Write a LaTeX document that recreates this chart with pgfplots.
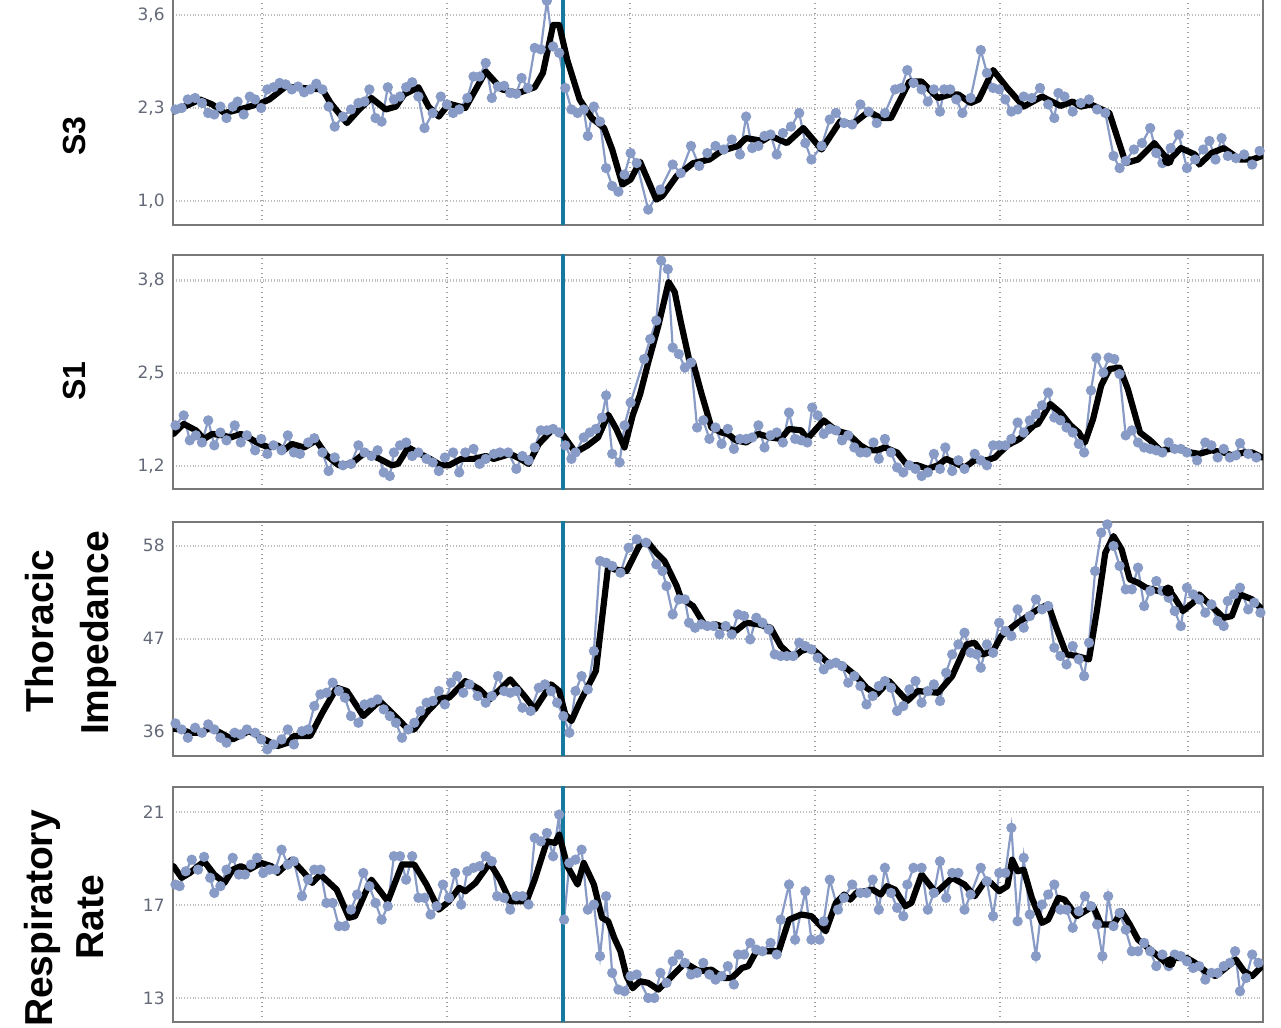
\documentclass[border=0pt]{standalone}
\usepackage{pgfplots}
\pgfplotsset{compat=1.18}
\usepackage{fontspec}
\setmainfont{DejaVu Sans}
\newfontfamily\labfont{Liberation Sans}
\definecolor{rawc}{RGB}{136,155,198}
\definecolor{vlinec}{RGB}{22,122,160}
\definecolor{tickc}{RGB}{100,105,120}
\definecolor{framec}{RGB}{120,120,120}
\pgfplotsset{
  panel/.style={
    scale only axis, width=545pt,
    xmin=173, xmax=1263,
    xtick={262,447,630,815,1000,1188},
    xticklabels={},
    grid=major,
    major x grid style={dotted, line width=0.6pt, gray!75},
    major y grid style={densely dotted, line width=1.1pt, gray!50},
    major tick length=0pt,
    axis line style={framec, line width=1pt},
    yticklabel style={font=\fontsize{8.5}{10}\selectfont, text=tickc, inner sep=0pt, xshift=-4pt},
    anchor=south west,
  },
  raw/.style={rawc, line width=1.1pt, mark=*, mark size=2pt, mark options={fill=rawc, draw=rawc}},
  smoothl/.style={black, line width=3.1pt, line join=round, line cap=round},
  vl/.style={vlinec, line width=1.8pt},
  blob/.style={only marks, mark=*, mark size=2.8pt, black},
}
\begin{document}
\begin{tikzpicture}
\useasboundingbox (0,0) rectangle (640.5pt,514pt);

% ---------------- S3 ----------------
\begin{axis}[panel, at={(86.5pt,401.5pt)}, height=114pt,
  ymin=0.665, ymax=3.852, ytick={1.0,2.3,3.6}, yticklabels={{1,0},{2,3},{3,6}}]
\addplot[raw] coordinates {
(175.5,2.28)(181.6,2.30)(187.8,2.42)(195.1,2.44)(202,2.37)(208.2,2.23)(214.3,2.21)(220.4,2.32)(226.5,2.16)(232.7,2.32)(237.6,2.39)(243.7,2.21)(249.8,2.46)(255.1,2.42)(261.2,2.30)(267.3,2.56)(273.5,2.59)(279.6,2.65)(285.7,2.63)(291.8,2.56)(298,2.60)(304.1,2.52)(310.2,2.56)(316.3,2.64)(322.4,2.56)(328.6,2.32)(334.7,2.04)(342.9,2.18)(351,2.28)(358.4,2.37)(364.5,2.39)(369.4,2.56)(375.5,2.16)(381.6,2.11)(387.8,2.59)(393.9,2.42)(400,2.46)(406.1,2.59)(412.2,2.66)(418.4,2.46)(424.5,2.02)(432.7,2.23)(440.8,2.46)(446.9,2.35)(453.1,2.23)(459.2,2.28)(467.3,2.44)(473.5,2.74)(479.6,2.74)(485.7,2.93)(491.8,2.44)(498,2.60)(504.1,2.61)(510.2,2.51)(516.3,2.50)(521.6,2.72)(527.8,2.58)(534.7,3.14)(540.8,3.12)(546.9,3.80)(553.1,3.16)(559.2,3.07)(565.3,2.58)(571.4,2.28)(577.6,2.23)(583.7,2.28)(587.8,1.91)(593.9,2.32)(600,2.11)(606.1,1.46)(612.2,1.21)(618.4,1.13)(624.5,1.37)(630.6,1.67)(636.7,1.53)
(648.2,0.88)(660.4,1.16)(672.7,1.51)(680.8,1.39)(691,1.77)(699.2,1.49)(707.3,1.67)(715.5,1.77)(723.7,1.72)(731.8,1.86)(740,1.65)(746.1,2.18)(752.2,1.74)(758.4,1.77)(764.5,1.91)(770.6,1.93)(776.7,1.65)(782.9,1.95)(791,2.04)(799.2,2.23)(805.3,1.81)(811.4,1.58)(821.6,1.77)(829.8,2.14)(835.9,2.23)(844.1,2.09)(852.2,2.07)(860.4,2.35)(868.6,2.25)(876.7,2.09)(884.9,2.23)(895.1,2.56)(901.2,2.58)(907.3,2.83)(913.5,2.65)(921.6,2.56)(927.8,2.39)(933.9,2.56)(940,2.25)(944.1,2.56)(950.2,2.56)(956.3,2.42)(962.4,2.23)(970.6,2.44)(980.8,3.11)(986.9,2.79)(993.1,2.58)(999.2,2.56)(1005.3,2.42)(1011.4,2.25)(1017.6,2.28)(1023.7,2.46)(1031.8,2.44)(1040,2.58)(1048.2,2.35)(1054.3,2.16)(1058.4,2.51)(1064.5,2.46)(1072.7,2.25)(1080.8,2.37)(1089,2.42)(1097.1,2.28)(1105.3,2.23)(1113.5,1.63)(1119.6,1.46)(1125.7,1.56)(1133.9,1.72)(1142,1.81)(1150.2,2.02)(1156.3,1.67)(1162.4,1.53)(1170.6,1.74)(1178.8,1.93)(1186.9,1.46)(1195.1,1.58)(1203.3,1.72)(1209.4,1.84)(1215.5,1.58)(1221.6,1.88)(1227.8,1.63)(1235.9,1.60)(1244.1,1.65)(1252.2,1.51)(1259.6,1.70)
};
\addplot[vl] coordinates {(563,0.5)(563,4)};
\addplot[smoothl] coordinates {
(173.5,2.25)(181.6,2.30)(200,2.42)(212.2,2.35)(224.5,2.23)(244.9,2.30)(261.2,2.37)(269.4,2.42)(285.7,2.60)(302,2.58)(322.4,2.56)(330.6,2.37)(346.9,2.09)(359.2,2.28)(371.4,2.44)(385.7,2.28)(395.9,2.32)(404.1,2.49)(418.4,2.59)(428.6,2.32)(438.8,2.18)(449,2.36)(465.3,2.30)(485.7,2.81)(502,2.56)(518.4,2.51)(534.7,2.59)(542.9,2.79)(553.1,3.46)(559.2,3.46)(567.3,2.97)(579.6,2.42)(591.8,2.16)(604.1,2.02)(612.2,1.72)(622.4,1.23)(630.6,1.30)(640,1.55)
(656.3,1.02)(662.4,1.07)(676.7,1.35)(693.1,1.53)(709.4,1.58)(721.6,1.70)(738,1.77)(746.1,1.88)(762.4,1.84)(770.6,1.91)(786.9,1.81)(803.3,2.02)(821.6,1.72)(840,2.11)(852.2,2.07)(868.6,2.25)(880.8,2.16)(891,2.16)(909.4,2.67)(921.6,2.67)(938,2.44)(950.2,2.49)(958.4,2.49)(970.6,2.37)(978.8,2.42)(993.1,2.83)(1007.3,2.58)(1023.7,2.32)(1042,2.46)(1060.4,2.33)(1072.7,2.39)(1080.8,2.32)(1091,2.35)(1109.4,2.23)(1125.7,1.53)(1138,1.58)(1154.3,1.81)(1168.6,1.56)(1180.8,1.74)(1195.1,1.65)(1199.2,1.51)(1211.4,1.67)(1223.7,1.74)(1240,1.58)(1252.2,1.58)(1262,1.63)
};
\addplot[blob] coordinates {(1168,1.57)};
\end{axis}

% ---------------- S1 ----------------
\begin{axis}[panel, at={(86.5pt,269.25pt)}, height=117.25pt,
  ymin=0.871, ymax=4.159, ytick={1.2,2.5,3.8}, yticklabels={{1,2},{2,5},{3,8}}]
\addplot[raw] coordinates {
(175.5,1.77)(183.7,1.91)(189.8,1.56)(195.9,1.63)(202,1.53)(208.2,1.84)(214.3,1.49)(220.4,1.67)(226.5,1.56)(234.7,1.77)(240.8,1.53)(246.9,1.63)(255.1,1.42)(261.2,1.58)(267.3,1.37)(273.5,1.49)(281.6,1.42)(287.8,1.63)(293.9,1.39)(300,1.37)(308.2,1.53)(314.3,1.59)(322.4,1.39)(328.6,1.13)(334.7,1.32)(342.9,1.21)(351,1.23)(358.4,1.49)(364.5,1.39)(371.4,1.34)(377.6,1.42)(383.7,1.11)(389.8,1.06)(393.9,1.39)(400,1.49)(406.1,1.53)(412.2,1.34)(418.4,1.39)(426.5,1.30)(432.7,1.25)(438.8,1.13)(444.9,1.32)(453.1,1.39)(459.2,1.11)(465.3,1.39)(473.5,1.44)(479.6,1.23)(485.7,1.30)(493.9,1.37)(500,1.39)(508.2,1.39)(516.3,1.16)(522.4,1.34)(528.6,1.28)(534.7,1.46)(540.8,1.70)(546.9,1.70)(553.1,1.72)(559.2,1.67)(565.3,1.49)(571.4,1.30)(575.5,1.39)(583.7,1.60)(589.8,1.67)(595.9,1.72)(602,1.88)(606.1,2.19)(612.2,1.37)(619.6,1.25)(624.5,1.77)(630.6,2.09)
(644.1,2.70)(650.2,2.98)(656.3,3.24)(661.2,4.08)(667.8,3.96)(672.7,2.86)(678.8,2.77)(684.9,2.58)(691,2.65)(697.1,1.74)(703.3,1.84)(709.4,1.58)(715.5,1.74)(721.6,1.51)(727.8,1.72)(733.9,1.44)(740,1.58)(746.1,1.58)(752.2,1.60)(758.4,1.77)(764.5,1.46)(770.6,1.63)(776.7,1.67)(782.9,1.53)(789,1.95)(795.1,1.58)(801.2,1.56)(807.3,1.53)(812.2,2.02)(817.6,1.91)(823.7,1.65)(829.8,1.72)(835.9,1.70)(842,1.56)(848.2,1.63)(854.3,1.46)(860.4,1.39)(866.5,1.39)(873.5,1.53)(878.8,1.30)(884.9,1.58)(891,1.39)(897.1,1.18)(903.3,1.11)(909.4,1.21)(915.5,1.16)(921.6,1.06)(927.8,1.11)(933.9,1.37)(940,1.16)(945.3,1.46)(952.2,1.13)(958.4,1.28)(964.5,1.16)(974.7,1.37)(980.8,1.28)(986.9,1.21)(993.1,1.49)(999.2,1.49)(1005.3,1.49)(1011.4,1.58)(1017.6,1.81)(1023.7,1.67)(1029.8,1.84)(1035.9,1.93)(1042,2.05)(1048.2,2.23)(1054.3,1.88)(1060.4,1.84)(1066.5,1.74)(1072.7,1.67)(1078.8,1.51)(1084.1,1.39)(1091,2.26)(1096.3,2.72)(1103.3,2.51)(1108.6,2.72)(1114.3,2.70)(1119.6,2.49)(1125.7,1.63)(1131.8,1.70)(1138,1.53)(1144.1,1.46)(1150.2,1.44)(1156.3,1.42)(1162.4,1.39)(1168.6,1.53)(1174.7,1.44)(1180.8,1.44)(1186.9,1.39)(1197.1,1.28)(1205.3,1.53)(1211.4,1.49)(1217.6,1.32)(1223.7,1.44)(1229.8,1.32)(1235.9,1.35)(1240,1.52)(1248.2,1.37)(1256.3,1.32)
};
\addplot[vl] coordinates {(563,0.5)(563,4.5)};
\addplot[smoothl] coordinates {
(173.5,1.65)(183.7,1.79)(195.9,1.70)(204.1,1.58)(212.2,1.65)(222.4,1.63)(230.6,1.60)(240.8,1.65)(251,1.58)(259.2,1.51)(269.4,1.46)(277.6,1.49)(283.7,1.42)(291.8,1.51)(304.1,1.46)(316.3,1.56)(326.5,1.35)(338.8,1.21)(351,1.23)(365.3,1.39)(379.6,1.30)(391.8,1.21)(398,1.23)(408.2,1.46)(420.4,1.37)(432.7,1.28)(440.8,1.21)(449,1.21)(461.2,1.30)(473.5,1.30)(485.7,1.34)(493.9,1.30)(510.2,1.37)(520.4,1.30)(528.6,1.23)(538.8,1.51)(553.1,1.72)(563.3,1.63)(575.5,1.39)(587.8,1.49)(598,1.60)(608.2,1.92)(616.3,1.72)(624.5,1.46)(632.7,1.91)
(640,2.20)(648.2,2.65)(658.4,3.17)(668.6,3.78)(674.7,3.64)(680.8,3.22)(689,2.70)(693.1,2.65)(701.2,2.23)(711.4,1.74)(721.6,1.67)(727.8,1.65)(735.9,1.56)(746.1,1.53)(758.4,1.65)(770.6,1.60)(780.8,1.58)(789,1.72)(801.2,1.70)(807.3,1.58)(823.7,1.84)(835.9,1.70)(848.2,1.65)(860.4,1.49)(868.6,1.42)(876.7,1.42)(884.9,1.46)(897.1,1.39)(907.3,1.21)(917.6,1.21)(927.8,1.16)(938,1.21)(946.1,1.30)(954.3,1.25)(964.5,1.18)(974.7,1.28)(986.9,1.28)(995.1,1.32)(1007.3,1.49)(1019.6,1.58)(1033.9,1.77)(1038,1.79)(1050.2,2.07)(1060.4,1.95)(1070.6,1.77)(1078.8,1.67)(1084.9,1.53)(1093.1,1.86)(1101.2,2.33)(1109.4,2.56)(1119.6,2.58)(1127.8,2.28)(1140,1.67)(1150.2,1.56)(1160.4,1.42)(1170.6,1.44)(1180.8,1.44)(1191,1.39)(1199.2,1.37)(1211.4,1.42)(1223.7,1.39)(1231.8,1.35)(1244.1,1.39)(1252.2,1.39)(1262,1.32)
};
\end{axis}

% ---------------- Thoracic Impedance ----------------
\begin{axis}[panel, at={(86.5pt,136pt)}, height=117.15pt,
  ymin=33.13, ymax=60.84, ytick={36,47,58}, yticklabels={36,47,58}]
\addplot[raw] coordinates {
(175.5,36.98)(181.6,36.27)(187.8,35.29)(195.1,36.47)(202,35.88)(208.2,36.87)(214.3,36.27)(220.4,35.29)(226.5,34.70)(234.7,35.88)(240.8,35.68)(246.9,36.27)(255.1,35.88)(261.2,35.09)(267.3,33.91)(273.5,34.50)(281.6,35.09)(287.8,36.27)(293.9,34.50)(302,36.07)(308.2,36.27)(314.3,39.04)(320.4,40.42)(326.5,40.61)(332.7,41.80)(338.8,40.81)(344.9,40.02)(351,37.85)(358.4,37.06)(364.5,39.23)(371.4,39.43)(377.6,39.82)(383.7,38.64)(389.8,37.85)(395.9,37.06)(402,35.29)(408.2,36.27)(414.3,37.06)(420.4,38.45)(426.5,39.43)(432.7,39.63)(438.8,40.81)(444.9,39.23)(451,41.80)(457.1,42.58)(463.3,40.61)(469.4,41.60)(477.6,40.22)(485.7,39.43)(491.8,40.22)(498,42.58)(504.1,40.81)(510.2,40.61)(516.3,40.81)(522.4,38.84)(530.6,38.45)(538.8,41.20)(544.9,41.60)(551,40.81)(557.1,39.43)(563.3,37.85)(569.4,35.88)(575.5,40.81)(581.6,42.58)(587.8,41.01)(593.9,45.54)(600,56.19)(606.1,55.99)(612.2,55.60)(620.4,54.81)(628.6,57.76)(636.7,58.75)
(646.1,58.36)(656.3,55.79)(662.4,55.00)(666.5,53.23)(672.7,49.88)(678.8,51.65)(684.9,51.65)(689,48.89)(695.1,48.30)(701.2,48.70)(707.3,48.50)(713.5,48.50)(719.6,47.51)(725.7,48.50)(731.8,47.51)(738,49.88)(744.1,49.68)(750.2,46.92)(756.3,49.48)(762.4,48.89)(768.6,48.10)(774.7,45.15)(780.8,44.95)(786.9,44.95)(793.1,44.95)(799.2,46.53)(805.3,46.13)(811.4,45.74)(817.6,44.75)(823.7,43.37)(829.8,43.96)(835.9,44.16)(842,43.77)(848.2,41.80)(854.3,42.58)(860.4,41.40)(866.5,39.23)(872.7,40.22)(878.8,41.40)(884.9,41.99)(891,41.20)(897.1,38.45)(903.3,39.04)(909.4,41.01)(915.5,41.99)(921.6,39.43)(927.8,40.81)(933.9,41.60)(940,39.63)(946.1,42.98)(952.2,45.15)(958.4,46.33)(964.5,47.71)(970.6,45.34)(976.7,45.15)(980.8,43.57)(986.9,46.33)(993.1,45.34)(999.2,48.89)(1005.3,47.91)(1011.4,47.32)(1017.6,50.47)(1023.7,48.30)(1029.8,49.68)(1035.9,51.65)(1042,50.47)(1048.2,50.86)(1054.3,45.94)(1060.4,44.95)(1066.5,43.96)(1072.7,46.13)(1078.8,44.56)(1084.1,42.58)(1089,46.53)(1095.1,55.00)(1101.2,59.54)(1107.3,60.52)(1113.5,57.96)(1119.6,55.60)(1125.7,52.84)(1131.8,52.84)(1138,55.40)(1144.1,50.86)(1150.2,52.64)(1156.3,53.82)(1162.4,52.64)(1168.6,51.85)(1174.7,50.27)(1180.8,48.50)(1186.9,53.03)(1193.1,52.24)(1199.2,51.65)(1205.3,50.08)(1211.4,51.06)(1217.6,49.09)(1223.7,48.50)(1227.8,51.46)(1233.9,52.24)(1240,53.03)(1248.2,50.47)(1254.3,51.26)(1260.4,50.08)
};
\addplot[vl] coordinates {(563,30)(563,65)};
\addplot[smoothl] coordinates {
(173.5,36.35)(181.6,36.27)(189.8,35.88)(200,35.88)(210.2,36.47)(220.4,35.88)(232.7,35.09)(249,36.08)(261.2,35.29)(277.6,34.30)(287.8,34.70)(293.9,35.49)(310.2,35.49)(322.4,38.25)(336.7,41.20)(346.9,40.81)(363.3,37.85)(379.6,39.63)(391.8,38.25)(408.2,36.27)(414.3,36.27)(426.5,38.25)(440.8,40.02)(449,40.02)(465.3,41.99)(479.6,41.01)(489.8,39.82)(510.2,42.19)(524.5,40.22)(534.7,38.64)(551,41.60)(559.2,40.81)(565.3,38.05)(571.4,37.26)(579.6,39.43)(595.9,43.18)(608.2,55.60)(614.3,55.20)(626.5,55.00)(640,58.16)
(648.2,58.36)(656.3,57.17)(664.5,56.19)(676.7,53.23)(680.8,51.85)(693.1,50.86)(705.3,48.50)(715.5,48.70)(725.7,48.30)(735.9,47.91)(746.1,48.89)(758.4,48.70)(770.6,48.30)(780.8,46.13)(793.1,44.75)(801.2,45.54)(811.4,45.94)(827.8,44.16)(842,43.96)(856.3,42.58)(866.5,41.20)(876.7,40.42)(889,41.99)(907.3,39.63)(917.6,40.81)(938,40.61)(952.2,42.58)(966.5,46.33)(974.7,46.53)(982.9,45.15)(993.1,45.54)(1001.2,47.32)(1015.5,48.70)(1027.8,49.68)(1038,50.47)(1048.2,51.06)(1056.3,48.30)(1066.5,45.15)(1076.7,44.95)(1089,44.56)(1097.1,50.47)(1105.3,57.17)(1113.5,59.14)(1121.6,57.57)(1129.8,54.02)(1138,53.62)(1146.1,53.03)(1158.4,52.64)(1168.6,52.84)(1174.7,51.85)(1182.9,50.27)(1193.1,51.26)(1199.2,52.24)(1211.4,50.86)(1223.7,49.48)(1231.8,49.68)(1240,52.24)(1252.2,51.65)(1262,50.47)
};
\addplot[blob] coordinates {(1168,52.7)};
\end{axis}

% ---------------- Respiratory Rate ----------------
\begin{axis}[panel, at={(86.5pt,3.15pt)}, height=117.5pt,
  ymin=11.99, ymax=22.10, ytick={13,17,21}, yticklabels={13,17,21}]
\addplot[raw] coordinates {
(175.5,17.89)(179.6,17.82)(185.7,18.46)(191.8,18.96)(198,18.53)(204.1,19.08)(210.2,18.18)(214.3,17.53)(220.4,17.82)(226.5,18.53)(232.7,19.04)(238.8,18.32)(244.9,18.32)(251,18.75)(257.1,19.04)(263.3,18.39)(269.4,18.53)(275.5,18.53)(281.6,19.39)(287.8,18.75)(293.9,18.89)(302,17.39)(308.2,18.10)(314.3,18.53)(320.4,18.53)(326.5,17.10)(332.7,17.10)(338.8,16.10)(344.9,16.10)(351,16.81)(357.1,17.46)(363.3,18.39)(369.4,17.82)(375.5,17.10)(381.6,16.38)(387.8,16.96)(393.9,19.11)(400,19.11)(406.1,18.10)(412.2,19.11)(418.4,17.32)(424.5,17.32)(430.6,16.60)(436.7,16.96)(442.9,17.89)(449,17.32)(455.1,18.39)(461.2,17.03)(467.3,18.46)(473.5,18.61)(479.6,18.68)(485.7,19.11)(491.8,18.89)(497.1,17.39)(504.1,17.32)(510.2,16.81)(516.3,17.39)(522.4,17.39)(528.6,17.03)(534.7,19.90)(540.8,19.75)(546.9,20.11)(553.1,19.11)(559.2,20.90)(564.1,16.38)(569.4,18.82)(575.5,18.96)(581.6,19.39)(587.8,16.81)(593.9,17.03)(600,14.81)(606.1,17.39)(612.2,14.09)(618.4,13.37)(624.5,13.30)(630.6,13.95)(636.7,14.02)
(648.2,13.01)(654.3,13.01)(660.4,14.09)(666.5,13.66)(672.7,14.59)(678.8,14.88)(684.9,14.52)(691,14.02)(697.1,14.09)(703.3,14.52)(709.4,14.02)(715.5,13.80)(721.6,13.95)(727.8,14.38)(733.9,13.59)(738,14.88)(744.1,14.88)(750.2,15.38)(756.3,15.09)(762.4,15.02)(770.6,15.38)(776.7,14.88)(780.8,16.38)(789,17.89)(795.1,15.52)(805.3,17.60)(811.4,15.52)(819.6,15.52)(823.7,16.31)(829.8,18.10)(838,16.81)(844.1,17.32)(852.2,17.89)(860.4,17.53)(866.5,17.53)(872.7,18.10)(878.8,16.81)(884.9,18.61)(891,17.53)(897.1,16.89)(903.3,16.53)(907.3,17.89)(913.5,18.61)(921.6,18.61)(927.8,16.81)(933.9,17.53)(940,18.89)(946.1,17.32)(952.2,18.39)(958.4,18.39)(964.5,16.81)(970.6,17.46)(980.8,18.61)(986.9,18.03)(993.1,16.53)(999.2,18.39)(1005.3,18.39)(1011.4,20.33)(1017.6,16.31)(1023.7,19.04)(1029.8,16.60)(1035.9,14.81)(1042,17.03)(1048.2,17.46)(1054.3,17.89)(1060.4,16.81)(1066.5,16.81)(1072.7,16.03)(1078.8,16.74)(1084.9,17.39)(1091,16.96)(1097.1,16.17)(1102.4,14.81)(1108.2,17.39)(1113.5,16.10)(1119.6,16.67)(1125.7,15.95)(1131.8,15.02)(1138,15.02)(1144.1,15.38)(1150.2,15.02)(1156.3,14.38)(1162.4,14.88)(1168.6,14.38)(1174.7,14.88)(1180.8,14.81)(1186.9,14.59)(1193.1,14.30)(1199.2,14.38)(1205.3,13.80)(1211.4,14.09)(1217.6,14.09)(1223.7,14.38)(1229.8,14.52)(1235.1,15.02)(1240,13.30)(1246.1,13.87)(1252.2,14.88)(1258.4,14.52)
};
\addplot[vl] coordinates {(563,10)(563,24)};
\addplot[smoothl] coordinates {
(173.5,18.68)(181.6,18.18)(189.8,18.39)(204.1,18.89)(214.3,18.32)(224.5,17.96)(232.7,18.53)(240.8,18.68)(249,18.53)(261.2,18.82)(271.4,18.68)(277.6,18.39)(291.8,18.96)(304.1,18.39)(312.2,17.96)(320.4,18.32)(336.7,17.67)(349,16.46)(355.1,16.53)(365.3,17.53)(371.4,18.10)(387.8,17.17)(402,18.75)(414.3,18.75)(426.5,17.89)(438.8,16.81)(449,17.17)(459.2,17.75)(465.3,17.60)(475.5,17.96)(489.8,18.82)(500,18.10)(510.2,17.17)(526.5,17.17)(534.7,18.10)(546.9,19.75)(555.1,19.68)(559.2,20.04)(567.3,18.68)(577.6,17.89)(583.7,18.82)(593.9,17.89)(602,16.46)(608.2,16.31)(614.3,15.59)(620.4,15.02)(626.5,13.95)(632.7,13.43)(640,13.73)
(648.2,13.66)(658.4,13.37)(668.6,13.80)(684.9,14.52)(699.2,14.16)(711.4,14.23)(723.7,13.87)(731.8,13.87)(742,14.30)(748.2,14.38)(756.3,15.02)(770.6,15.02)(778.8,15.02)(789,16.38)(801.2,16.60)(811.4,16.53)(825.7,15.88)(835.9,17.10)(844.1,17.46)(850.2,17.24)(856.3,17.53)(872.7,17.67)(880.8,17.46)(886.9,17.82)(895.1,17.67)(905.3,16.96)(911.4,17.10)(921.6,18.32)(935.9,17.53)(952.2,18.18)(964.5,17.89)(974.7,17.39)(984.9,18.03)(991,17.96)(999.2,17.60)(1007.3,17.82)(1012.2,18.96)(1017.6,18.46)(1023.7,18.53)(1031.8,17.32)(1042,16.24)(1048.2,16.38)(1058.4,17.32)(1064.5,17.24)(1076.7,16.53)(1093.1,16.96)(1101.2,16.17)(1113.5,16.17)(1121.6,16.74)(1129.8,16.17)(1138,15.52)(1150.2,15.09)(1162.4,14.66)(1168.6,14.38)(1174.7,14.73)(1186.9,14.73)(1195.1,14.52)(1205.3,14.16)(1215.5,13.95)(1225.7,14.30)(1235.9,14.66)(1244.1,14.16)(1252.2,13.95)(1262,14.38)
};
\addplot[blob] coordinates {(1170,14.55)};
\end{axis}

% ---------------- panel labels ----------------
\node[rotate=90, anchor=base, font=\labfont\bfseries\fontsize{16}{18}\selectfont] at (42.5pt,446pt) {S3};
\node[rotate=90, anchor=base, font=\labfont\bfseries\fontsize{16}{18}\selectfont] at (42.5pt,323.5pt) {S1};
\node[rotate=90, anchor=base, font=\labfont\bfseries\fontsize{19.5}{22}\selectfont] at (26.5pt,198.5pt) {Thoracic};
\node[rotate=90, anchor=base, font=\labfont\bfseries\fontsize{19.5}{22}\selectfont] at (54pt,197.5pt) {Impedance};
\node[rotate=90, anchor=base, font=\labfont\bfseries\fontsize{19.5}{22}\selectfont] at (26pt,54.75pt) {Respiratory};
\node[rotate=90, anchor=base, font=\labfont\bfseries\fontsize{19.5}{22}\selectfont] at (51.5pt,55.5pt) {Rate};
\end{tikzpicture}
\end{document}
